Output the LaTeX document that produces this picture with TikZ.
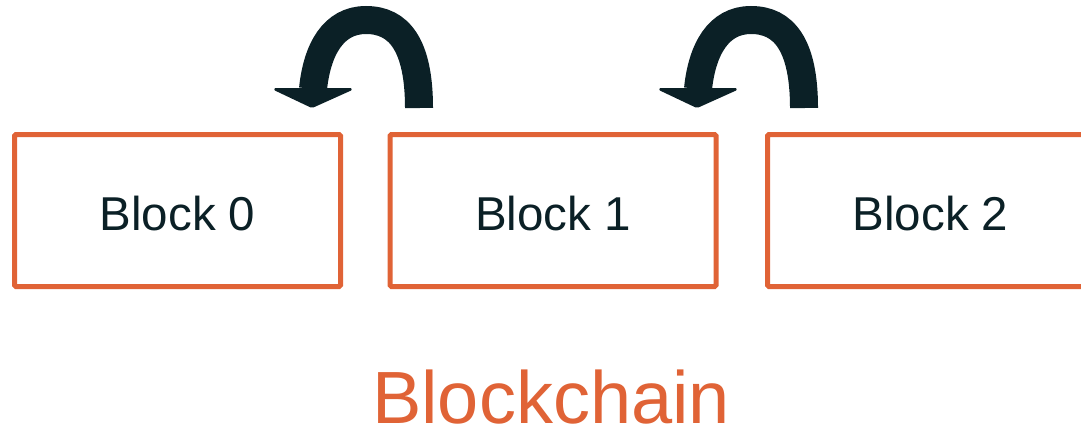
\documentclass[tikz,border=0pt]{standalone}
\usepackage{fontspec}
\setmainfont{Liberation Sans}
\definecolor{bcorange}{HTML}{E06336}
\definecolor{bcdark}{HTML}{0B2026}
\begin{document}
\begin{tikzpicture}[x=1pt,y=-1pt,
  blockbox/.style={draw=bcorange, line width=5pt, rounded corners=1.5pt,
    minimum width=326pt, minimum height=152pt, inner sep=0pt,
    text=bcdark, font=\fontsize{47.5}{50}\selectfont, text height=39pt, text depth=0pt},
  backarrow/.style={draw=bcdark, line width=28pt, line cap=butt},
  backhead/.style={fill=bcdark, draw=bcdark, line width=2pt, rounded corners=1.5pt, line join=round}]
\useasboundingbox (0,0) rectangle (1081,429);
\clip (0,0) rectangle (1081,429);
\node[blockbox] (b0) at (177.5,210.5) {Block 0};
\node[blockbox] (b1) at (553,210.5) {Block 1};
\node[blockbox] (b2) at (930.5,210.5) {Block 2};
\node[anchor=base, text=bcorange, font=\fontsize{74}{76}\selectfont, inner sep=0pt] (title) at (551,423) {Blockchain};
\foreach \dx in {0,385}{
  \begin{scope}[xshift=\dx pt]
    \draw[backarrow] (419,108) .. controls (419,45) and (399,20) .. (366,20)
      .. controls (333,20) and (317,50) .. (313,89);
    \filldraw[backhead] (274,89) -- (352,89) -- (312,107) -- cycle;
  \end{scope}
}
\end{tikzpicture}
\end{document}
